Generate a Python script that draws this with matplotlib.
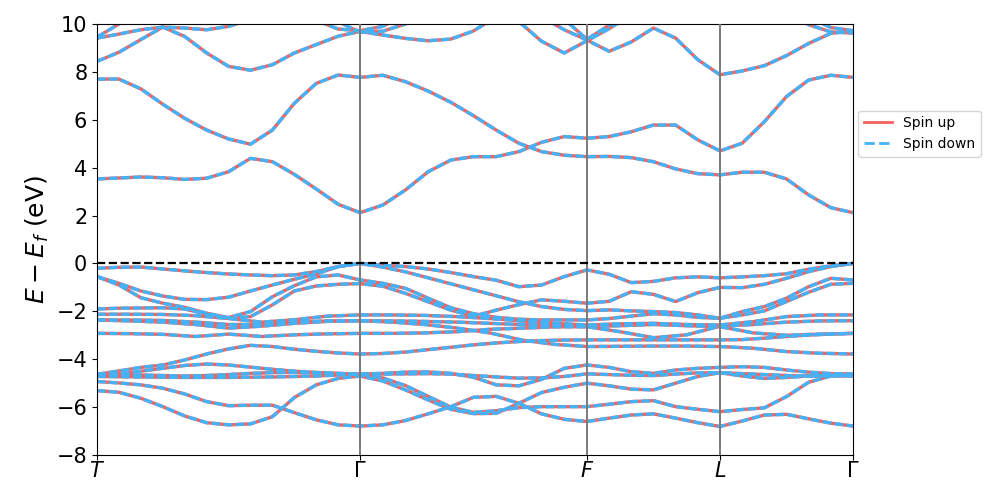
import numpy as np
import matplotlib
matplotlib.use('Agg')
import matplotlib.pyplot as plt
from matplotlib.lines import Line2D

# high symmetry points along the path (fraction of total path length)
kpoint_labels = [r'$T$', r'$\Gamma$', r'$F$', r'$L$', r'$\Gamma$']
kpoint_pos = [0.0, 0.348, 0.648, 0.824, 1.0]
coarse_counts = [9, 8, 5, 5]
fine_counts = [13, 11, 7, 7]

# band energies (eV, relative to E_f) along T-G | G-F | F-L | L-G
# bands read on the fine k grid
c1 = [3.53, 3.57, 3.61, 3.58, 3.51, 3.56, 3.83, 4.39, 4.25, 3.72, 3.11, 2.47, 2.12,
      2.44, 3.07, 3.83, 4.32, 4.46, 4.46, 4.67, 5.06, 5.30, 5.23,
      5.30, 5.50, 5.78, 5.78, 5.16, 4.70,
      5.02, 5.92, 6.97, 7.66, 7.86, 7.77]
c2 = [7.70, 7.70, 7.29, 6.65, 6.06, 5.57, 5.20, 4.98, 5.57, 6.69, 7.52, 7.87, 7.77,
      7.86, 7.59, 7.20, 6.73, 6.17, 5.57, 5.02, 4.67, 4.52, 4.46,
      4.47, 4.42, 4.25, 3.95, 3.75, 3.70,
      3.81, 3.81, 3.53, 2.86, 2.33, 2.12]
c3 = [8.44, 8.82, 9.35, 9.87, 9.48, 8.79, 8.23, 8.07, 8.30, 8.79, 9.14, 9.49, 9.69,
      9.54, 9.40, 9.30, 9.37, 9.71, 10.3, 10.8, 10.3, 9.76, 9.33,
      8.86, 9.25, 9.83, 9.41, 8.51, 7.88,
      8.04, 8.26, 8.68, 9.19, 9.61, 9.71]
c4 = [9.41, 9.58, 9.76, 9.87, 9.83, 9.76, 9.90, 10.2, 10.5, 10.6, 10.15, 9.79, 9.72,
      9.90, 10.4, 10.8, 11.0, 11.0, 10.8, 10.1, 9.28, 8.79, 9.30,
      9.80, 10.4, 11.0, 11.0, 11.0, 11.0,
      11.0, 11.0, 10.6, 9.97, 9.67, 9.62]
c5 = [9.45, 10.0, 10.8, 11.0, 11.0, 11.0, 11.0, 11.0, 11.0, 11.0, 10.6, 10.1, 9.65,
      9.70, 10.0, 10.5, 11.0, 11.0, 11.0, 11.0, 10.6, 10.2, 9.36,
      9.95, 10.6, 11.0, 11.0, 11.0, 11.0,
      11.0, 11.0, 10.8, 10.3, 9.85, 9.72]
v1 = [-0.20, -0.16, -0.15, -0.23, -0.31, -0.38, -0.44, -0.48, -0.51, -0.48, -0.34, -0.13, 0.00,
      -0.08, -0.13, -0.23, -0.38, -0.55, -0.70, -0.97, -0.90, -0.55, -0.27,
      -0.45, -0.80, -0.75, -0.60, -0.56, -0.60,
      -0.56, -0.51, -0.43, -0.24, -0.10, 0.00]
v2 = [-0.55, -0.83, -1.15, -1.36, -1.50, -1.51, -1.41, -1.15, -0.90, -0.66, -0.44, -0.13, 0.00,
      -0.15, -0.35, -0.60, -0.85, -1.10, -1.35, -1.60, -1.80, -1.92, -1.97,
      -1.94, -1.98, -2.01, -2.05, -2.15, -2.29,
      -2.01, -1.80, -1.45, -0.97, -0.62, -0.69]
v3 = [-0.55, -0.90, -1.43, -1.66, -1.83, -2.08, -2.26, -2.01, -1.39, -0.93, -0.56, -0.48, -0.69,
      -0.83, -1.04, -1.45, -1.85, -2.10, -2.25, -2.33, -2.36, -2.36, -2.36,
      -2.30, -2.20, -2.10, -2.15, -2.25, -2.29,
      -2.15, -1.98, -1.59, -1.20, -0.87, -0.83]
v4 = [-1.90, -1.87, -1.86, -1.85, -1.90, -2.12, -2.29, -2.22, -1.73, -1.15, -0.94, -0.87, -0.84,
      -0.95, -1.25, -1.60, -1.95, -2.20, -1.95, -1.72, -1.52, -1.58, -1.66,
      -1.58, -1.18, -1.29, -1.59, -1.22, -1.00,
      -1.01, -0.87, -0.62, -0.34, -0.13, 0.00]
v9 = [-4.63, -4.49, -4.34, -4.24, -4.03, -3.78, -3.57, -3.42, -3.47, -3.58, -3.67, -3.74, -3.78,
      -3.76, -3.70, -3.60, -3.50, -3.40, -3.32, -3.26, -3.22, -3.20, -3.19,
      -3.19, -3.19, -3.19, -3.19, -3.19, -3.19,
      -3.18, -3.12, -3.05, -2.99, -2.95, -2.92]
v10 = [-4.63, -4.64, -4.66, -4.68, -4.70, -4.68, -4.64, -4.59, -4.56, -4.55, -4.57, -4.60, -4.62,
       -4.59, -4.54, -4.53, -4.59, -4.75, -5.07, -5.11, -4.84, -4.38, -4.24,
       -4.34, -4.52, -4.59, -4.45, -4.38, -4.34,
       -4.31, -4.34, -4.45, -4.54, -4.60, -4.61]
v11 = [-4.70, -4.62, -4.50, -4.38, -4.26, -4.20, -4.24, -4.33, -4.42, -4.50, -4.55, -4.59, -4.62,
       -4.62, -4.61, -4.60, -4.62, -4.68, -4.74, -4.79, -4.78, -4.72, -4.61,
       -4.64, -4.67, -4.68, -4.62, -4.57, -4.56,
       -4.70, -4.80, -4.76, -4.70, -4.67, -4.66]
v12 = [-4.93, -4.99, -5.07, -5.21, -5.45, -5.77, -5.94, -5.92, -5.92, -6.23, -6.53, -6.74, -6.79,
       -6.74, -6.56, -6.28, -5.98, -5.59, -5.55, -5.84, -6.28, -6.51, -6.60,
       -6.46, -6.33, -6.28, -6.46, -6.65, -6.81,
       -6.58, -6.33, -6.30, -6.49, -6.67, -6.79]
v13 = [-5.31, -5.38, -5.63, -5.98, -6.37, -6.65, -6.74, -6.70, -6.40, -5.60, -5.07, -4.80, -4.70,
       -4.91, -5.28, -5.70, -6.09, -6.27, -6.26, -5.84, -5.39, -5.17, -5.00,
       -5.11, -5.25, -5.28, -5.00, -4.72, -4.56,
       -4.60, -4.64, -4.68, -4.70, -4.70, -4.70]
v14 = [-4.72, -4.73, -4.74, -4.75, -4.76, -4.76, -4.76, -4.75, -4.74, -4.72, -4.70, -4.66, -4.62,
       -4.78, -5.10, -5.55, -6.00, -6.22, -6.15, -6.02, -5.98, -5.98, -5.98,
       -5.88, -5.77, -5.73, -5.98, -6.09, -6.19,
       -6.10, -6.03, -5.56, -4.96, -4.70, -4.66]

# bands read on the coarse k grid (flat bands in the -2 to -3.5 eV bundle)
v5 = [-2.12, -2.12, -2.13, -2.18, -2.30, -2.45, -2.35, -2.20, -2.15,
      -2.15, -2.17, -2.22, -2.30, -2.40, -2.50, -2.57,
      -2.52, -2.50, -2.55, -2.57,
      -2.43, -2.22, -2.15, -2.15]
v6 = [-2.36, -2.36, -2.38, -2.45, -2.55, -2.55, -2.45, -2.40, -2.39,
      -2.40, -2.42, -2.45, -2.50, -2.55, -2.60, -2.64,
      -2.85, -3.10, -2.98, -2.62,
      -2.55, -2.45, -2.40, -2.39]
v7 = [-2.36, -2.40, -2.45, -2.55, -2.70, -2.62, -2.50, -2.42, -2.39,
      -2.45, -2.55, -2.70, -2.90, -3.20, -3.38, -3.47,
      -3.46, -3.45, -3.45, -3.47,
      -3.54, -3.68, -3.75, -3.78]
v8 = [-2.92, -2.93, -2.96, -3.05, -2.95, -3.05, -2.98, -2.94, -2.92,
      -2.92, -2.90, -2.85, -2.75, -2.70, -2.65, -2.64,
      -2.60, -2.55, -2.60, -2.64,
      -2.90, -3.00, -2.95, -2.92]

fine_bands = [c1, c2, c3, c4, c5, v1, v2, v3, v4, v9, v10, v11, v12, v13, v14]
coarse_bands = [v5, v6, v7, v8]

red = '#f6625c'
blue = '#45b2f8'


def build_kpath(nodes, counts):
  k = [np.linspace(nodes[0], nodes[1], counts[0])]
  for i in range(1, len(counts)):
    k.append(np.linspace(nodes[i], nodes[i + 1], counts[i])[1:])
  return np.concatenate(k)


def plot_bands(ax, k, bands):
  for band in bands:
    ax.plot(k, band, color = red, lw = 2.4, zorder = 2)
  for band in bands:
    ax.plot(k, band, color = blue, lw = 2.4, dashes = (2.6, 1.0), zorder = 2.5)


fig = plt.figure(figsize = (9.97, 4.98), dpi = 100)
ax = fig.add_axes([0.0973, 0.0863, 0.7583, 0.8655])

k_fine = build_kpath(kpoint_pos, fine_counts)
k_coarse = build_kpath(kpoint_pos, coarse_counts)
plot_bands(ax, k_coarse, coarse_bands)
plot_bands(ax, k_fine, fine_bands)

# high symmetry lines and Fermi level
for x in kpoint_pos[1:-1]:
  ax.axvline(x, color = '#7a7a7a', lw = 1.4, zorder = 3)
ax.axhline(0, color = 'black', ls = '--', lw = 1.6, zorder = 3)

ax.set_xlim(0, 1)
ax.set_ylim(-8, 10)
ax.set_yticks(np.arange(-8, 11, 2))
ax.set_xticks(kpoint_pos)
ax.set_xticklabels(kpoint_labels)
ax.tick_params(axis = 'both', labelsize = 15)
ax.tick_params(axis = 'x', pad = 1)
ax.set_ylabel(r'$E - E_f$ (eV)', fontsize = 18)

handles = [Line2D([0], [0], color = red, lw = 2),
           Line2D([0], [0], color = blue, lw = 2, ls = '--')]
ax.legend(handles, ['Spin up', 'Spin down'], loc = 'upper left',
          bbox_to_anchor = (0.998, 0.815), fontsize = 10)

fig.savefig('out.png', dpi = 100)
